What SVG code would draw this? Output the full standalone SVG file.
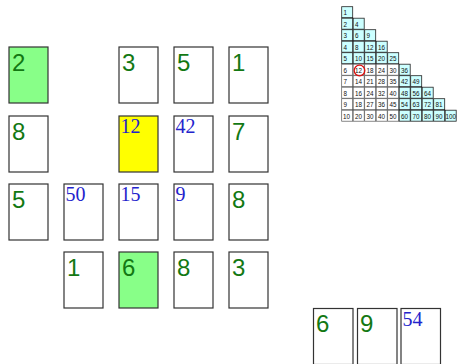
<svg xmlns="http://www.w3.org/2000/svg" width="457" height="364" viewBox="0 0 457 364">
<style>
.card{fill:#fff;stroke:#333;stroke-width:1.2}
.g{fill:#88ff88}
.y{fill:#ffff00}
.tg{font-family:"Liberation Sans",Arial,sans-serif;font-size:24px;fill:#137813}
.tb{font-family:"Liberation Serif","Times New Roman",serif;font-size:20px;fill:#2323cc}
.c{fill:#ccffff;stroke:#222;stroke-width:0.8}
.w{fill:#fff;stroke:#555;stroke-width:0.7}
.ct{font-family:"Liberation Sans",Arial,sans-serif;font-size:6.3px;fill:#111}
</style>
<rect width="457" height="364" fill="#fff"/>
<g id="cards">
<g id="c1"><rect class="card g" x="9" y="47" width="39" height="56"/><text class="tg" x="12" y="71">2</text></g>
<g id="c2"><rect class="card" x="119" y="47" width="39" height="56"/><text class="tg" x="122" y="71">3</text></g>
<g id="c3"><rect class="card" x="174" y="47" width="39" height="56"/><text class="tg" x="177" y="71">5</text></g>
<g id="c4"><rect class="card" x="229" y="47" width="39" height="56"/><text class="tg" x="232" y="71">1</text></g>
<g id="c5"><rect class="card" x="9" y="116" width="39" height="56"/><text class="tg" x="12" y="140">8</text></g>
<g id="c6"><rect class="card y" x="119" y="116" width="39" height="56"/><text class="tb" x="120.5" y="133">12</text></g>
<g id="c7"><rect class="card" x="174" y="116" width="39" height="56"/><text class="tb" x="175.5" y="133">42</text></g>
<g id="c8"><rect class="card" x="229" y="116" width="39" height="56"/><text class="tg" x="232" y="140">7</text></g>
<g id="c9"><rect class="card" x="9" y="184" width="39" height="56"/><text class="tg" x="12" y="208">5</text></g>
<g id="c10"><rect class="card" x="64" y="184" width="39" height="56"/><text class="tb" x="65.5" y="201">50</text></g>
<g id="c11"><rect class="card" x="119" y="184" width="39" height="56"/><text class="tb" x="120.5" y="201">15</text></g>
<g id="c12"><rect class="card" x="174" y="184" width="39" height="56"/><text class="tb" x="175.5" y="201">9</text></g>
<g id="c13"><rect class="card" x="229" y="184" width="39" height="56"/><text class="tg" x="232" y="208">8</text></g>
<g id="c14"><rect class="card" x="64" y="252" width="39" height="56"/><text class="tg" x="67" y="276">1</text></g>
<g id="c15"><rect class="card g" x="119" y="252" width="39" height="56"/><text class="tg" x="122" y="276">6</text></g>
<g id="c16"><rect class="card" x="174" y="252" width="39" height="56"/><text class="tg" x="177" y="276">8</text></g>
<g id="c17"><rect class="card" x="229" y="252" width="39" height="56"/><text class="tg" x="232" y="276">3</text></g>
<g id="c18"><rect class="card" x="313.5" y="308.5" width="39.5" height="56"/><text class="tg" x="316" y="332">6</text></g>
<g id="c19"><rect class="card" x="357.5" y="308.5" width="39.5" height="56"/><text class="tg" x="360" y="332">9</text></g>
<g id="c20"><rect class="card" x="401" y="308.5" width="39.5" height="56"/><text class="tb" x="402.5" y="326">54</text></g>
</g>
<g id="table">
<rect class="c" x="341.7" y="6.7" width="11" height="11"/><text class="ct" x="343.5" y="15">1</text>
<rect class="c" x="341.7" y="18.2" width="11" height="11"/><text class="ct" x="343.5" y="26.5">2</text>
<rect class="c" x="353.2" y="18.2" width="11" height="11"/><text class="ct" x="355" y="26.5">4</text>
<rect class="c" x="341.7" y="29.7" width="11" height="11"/><text class="ct" x="343.5" y="38">3</text>
<rect class="c" x="353.2" y="29.7" width="11" height="11"/><text class="ct" x="355" y="38">6</text>
<rect class="c" x="364.7" y="29.7" width="11" height="11"/><text class="ct" x="366.5" y="38">9</text>
<rect class="c" x="341.7" y="41.2" width="11" height="11"/><text class="ct" x="343.5" y="49.5">4</text>
<rect class="c" x="353.2" y="41.2" width="11" height="11"/><text class="ct" x="355" y="49.5">8</text>
<rect class="c" x="364.7" y="41.2" width="11" height="11"/><text class="ct" x="366.5" y="49.5">12</text>
<rect class="c" x="376.2" y="41.2" width="11" height="11"/><text class="ct" x="378" y="49.5">16</text>
<rect class="c" x="341.7" y="52.7" width="11" height="11"/><text class="ct" x="343.5" y="61">5</text>
<rect class="c" x="353.2" y="52.7" width="11" height="11"/><text class="ct" x="355" y="61">10</text>
<rect class="c" x="364.7" y="52.7" width="11" height="11"/><text class="ct" x="366.5" y="61">15</text>
<rect class="c" x="376.2" y="52.7" width="11" height="11"/><text class="ct" x="378" y="61">20</text>
<rect class="c" x="387.7" y="52.7" width="11" height="11"/><text class="ct" x="389.5" y="61">25</text>
<rect class="w" x="341.7" y="64.2" width="11" height="11"/><text class="ct" x="343.5" y="72.5">6</text>
<rect class="w" x="353.2" y="64.2" width="11" height="11"/><text class="ct" x="355" y="72.5">12</text>
<rect class="w" x="364.7" y="64.2" width="11" height="11"/><text class="ct" x="366.5" y="72.5">18</text>
<rect class="w" x="376.2" y="64.2" width="11" height="11"/><text class="ct" x="378" y="72.5">24</text>
<rect class="w" x="387.7" y="64.2" width="11" height="11"/><text class="ct" x="389.5" y="72.5">30</text>
<rect class="c" x="399.2" y="64.2" width="11" height="11"/><text class="ct" x="401" y="72.5">36</text>
<rect class="w" x="341.7" y="75.7" width="11" height="11"/><text class="ct" x="343.5" y="84">7</text>
<rect class="w" x="353.2" y="75.7" width="11" height="11"/><text class="ct" x="355" y="84">14</text>
<rect class="w" x="364.7" y="75.7" width="11" height="11"/><text class="ct" x="366.5" y="84">21</text>
<rect class="w" x="376.2" y="75.7" width="11" height="11"/><text class="ct" x="378" y="84">28</text>
<rect class="w" x="387.7" y="75.7" width="11" height="11"/><text class="ct" x="389.5" y="84">35</text>
<rect class="c" x="399.2" y="75.7" width="11" height="11"/><text class="ct" x="401" y="84">42</text>
<rect class="c" x="410.7" y="75.7" width="11" height="11"/><text class="ct" x="412.5" y="84">49</text>
<rect class="w" x="341.7" y="87.2" width="11" height="11"/><text class="ct" x="343.5" y="95.5">8</text>
<rect class="w" x="353.2" y="87.2" width="11" height="11"/><text class="ct" x="355" y="95.5">16</text>
<rect class="w" x="364.7" y="87.2" width="11" height="11"/><text class="ct" x="366.5" y="95.5">24</text>
<rect class="w" x="376.2" y="87.2" width="11" height="11"/><text class="ct" x="378" y="95.5">32</text>
<rect class="w" x="387.7" y="87.2" width="11" height="11"/><text class="ct" x="389.5" y="95.5">40</text>
<rect class="c" x="399.2" y="87.2" width="11" height="11"/><text class="ct" x="401" y="95.5">48</text>
<rect class="c" x="410.7" y="87.2" width="11" height="11"/><text class="ct" x="412.5" y="95.5">56</text>
<rect class="c" x="422.2" y="87.2" width="11" height="11"/><text class="ct" x="424" y="95.5">64</text>
<rect class="w" x="341.7" y="98.7" width="11" height="11"/><text class="ct" x="343.5" y="107">9</text>
<rect class="w" x="353.2" y="98.7" width="11" height="11"/><text class="ct" x="355" y="107">18</text>
<rect class="w" x="364.7" y="98.7" width="11" height="11"/><text class="ct" x="366.5" y="107">27</text>
<rect class="w" x="376.2" y="98.7" width="11" height="11"/><text class="ct" x="378" y="107">36</text>
<rect class="w" x="387.7" y="98.7" width="11" height="11"/><text class="ct" x="389.5" y="107">45</text>
<rect class="c" x="399.2" y="98.7" width="11" height="11"/><text class="ct" x="401" y="107">54</text>
<rect class="c" x="410.7" y="98.7" width="11" height="11"/><text class="ct" x="412.5" y="107">63</text>
<rect class="c" x="422.2" y="98.7" width="11" height="11"/><text class="ct" x="424" y="107">72</text>
<rect class="c" x="433.7" y="98.7" width="11" height="11"/><text class="ct" x="435.5" y="107">81</text>
<rect class="w" x="341.7" y="110.2" width="11" height="11"/><text class="ct" x="343" y="118.5">10</text>
<rect class="w" x="353.2" y="110.2" width="11" height="11"/><text class="ct" x="355" y="118.5">20</text>
<rect class="w" x="364.7" y="110.2" width="11" height="11"/><text class="ct" x="366.5" y="118.5">30</text>
<rect class="w" x="376.2" y="110.2" width="11" height="11"/><text class="ct" x="378" y="118.5">40</text>
<rect class="w" x="387.7" y="110.2" width="11" height="11"/><text class="ct" x="389.5" y="118.5">50</text>
<rect class="c" x="399.2" y="110.2" width="11" height="11"/><text class="ct" x="401" y="118.5">60</text>
<rect class="c" x="410.7" y="110.2" width="11" height="11"/><text class="ct" x="412.5" y="118.5">70</text>
<rect class="c" x="422.2" y="110.2" width="11" height="11"/><text class="ct" x="424" y="118.5">80</text>
<rect class="c" x="433.7" y="110.2" width="11" height="11"/><text class="ct" x="435.5" y="118.5">90</text>
<rect class="c" x="445.2" y="110.2" width="11" height="11"/><text class="ct" x="445.6" y="118.5">100</text>
<circle cx="359.5" cy="70.5" r="5.3" fill="none" stroke="#dd1111" stroke-width="1.3"/>
</g>
</svg>
